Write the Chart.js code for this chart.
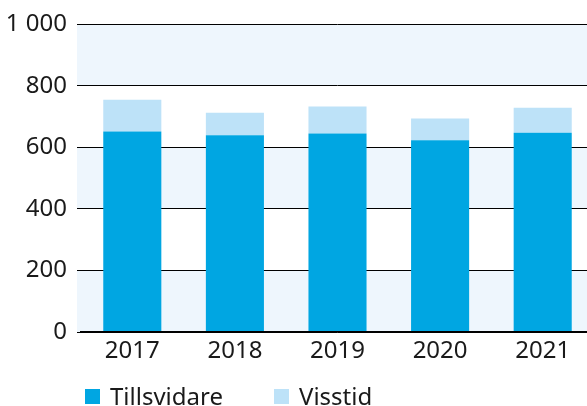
<!DOCTYPE html>
<html>
<head>
<meta charset="utf-8">
<script src="https://cdn.jsdelivr.net/npm/chart.js@4/dist/chart.umd.min.js"></script>
<style>
html,body{margin:0;padding:0;overflow:hidden;background:#fff;width:587px;height:406px;}
#wrap{width:594px;height:406px;}
</style>
</head>
<body>
<div id="wrap"><canvas id="c" width="594" height="406"></canvas></div>
<script>
const years = ['2017', '2018', '2019', '2020', '2021'];
const tillsvidare = [652, 640, 645, 623, 648];
const visstid = [103, 73, 88, 71, 81];
const yTicks = [0, 200, 400, 600, 800, 1000];
const seriesNames = ['Tillsvidare', 'Visstid'];
const seriesColors = ['#00a6e2', '#bde2f8'];
const bandColor = '#eef6fd';
const FONT = '"Noto Sans", "Open Sans", sans-serif';

function fmt(v) {
  return String(v).replace(/\B(?=(\d{3})+(?!\d))/g, ' ');
}

const bandPlugin = {
  id: 'bands',
  beforeDraw(chart) {
    const { ctx, chartArea } = chart;
    const y = chart.scales.y;
    ctx.save();
    ctx.fillStyle = bandColor;
    for (let i = 0; i < yTicks.length - 1; i += 2) {
      const yTop = y.getPixelForValue(yTicks[i + 1]);
      const yBot = y.getPixelForValue(yTicks[i]);
      ctx.fillRect(chartArea.left - 4, yTop, chartArea.right - chartArea.left + 4, yBot - yTop);
    }
    ctx.restore();
  }
};

const legendPlugin = {
  id: 'customLegend',
  afterDraw(chart) {
    const { ctx } = chart;
    const xs = [85, 274];
    ctx.save();
    ctx.font = '24px ' + FONT;
    ctx.textBaseline = 'alphabetic';
    ctx.textAlign = 'left';
    chart.data.datasets.forEach((ds, i) => {
      ctx.fillStyle = ds.backgroundColor;
      ctx.fillRect(xs[i], 389, 15, 15);
      ctx.fillStyle = '#1a1a1a';
      ctx.fillText(ds.label, xs[i] + 25, 405);
    });
    ctx.restore();
  }
};

new Chart(document.getElementById('c'), {
  type: 'bar',
  data: {
    labels: years,
    datasets: [
      { label: seriesNames[0], data: tillsvidare, backgroundColor: seriesColors[0], barPercentage: 0.566, categoryPercentage: 1 },
      { label: seriesNames[1], data: visstid, backgroundColor: seriesColors[1], barPercentage: 0.566, categoryPercentage: 1 }
    ]
  },
  options: {
    responsive: false,
    animation: false,
    layout: { padding: { top: 22, right: 0, left: 0, bottom: 0 } },
    plugins: { legend: { display: false }, tooltip: { enabled: false } },
    scales: {
      x: {
        stacked: true,
        grid: { display: false },
        border: { display: true, color: '#000', width: 1.5, z: 1 },
        ticks: { font: { size: 24, family: FONT }, color: '#1a1a1a', padding: -3 },
        afterFit(scale) { scale.height = 74; }
      },
      y: {
        stacked: true,
        min: 0,
        max: 1000,
        ticks: {
          stepSize: 200,
          font: { size: 24, family: FONT },
          color: '#1a1a1a',
          padding: 10,
          callback: (v) => fmt(v)
        },
        grid: { color: '#000', lineWidth: 1, tickLength: 4, drawTicks: true },
        border: { display: false },
        afterFit(scale) { scale.width = 81; }
      }
    }
  },
  plugins: [bandPlugin, legendPlugin]
});
</script>
</body>
</html>
